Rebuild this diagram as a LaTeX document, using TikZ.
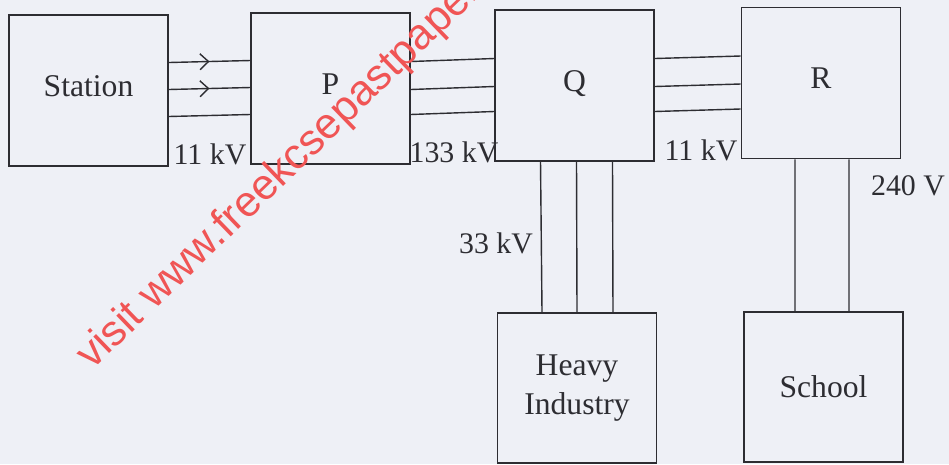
\documentclass[tikz,border=0pt]{standalone}
\usepackage{fontspec}
\setmainfont{Liberation Serif}
\newfontfamily\wmfont{Liberation Sans}
\usetikzlibrary{arrows.meta,decorations.markings}
\definecolor{paper}{RGB}{238,240,246}
\definecolor{ink}{RGB}{45,45,50}
\definecolor{wmred}{RGB}{240,85,85}
\tikzset{
  box/.style={draw=ink, line width=1pt, minimum width=3.18cm, minimum height=3.02cm,
    inner sep=0pt, align=center, text=ink, font=\fontsize{18}{22.5}\selectfont},
  toprow/.style={box, text depth=0.19cm},
  wire/.style={draw=ink, line width=0.8pt},
  feedarrow/.style={postaction={decorate}, decoration={markings,
    mark=at position 0.5 with {\arrow[ink, line width=0.8pt]{Straight Barb[length=1.7mm,width=3.2mm]}}}},
  volt/.style={text=ink, inner sep=1pt}
}
\begin{document}
\begin{tikzpicture}[x=0.02cm, y=-0.02cm, font=\fontsize{17}{22}\selectfont]

\useasboundingbox (0,0) rectangle (949,464);
\fill[paper] (0,0) rectangle (949,464);

% Boxes
\node[toprow] (station) at (88.5,90.5) {Station};
\node[toprow] (P) at (330.5,88.5) {P};
\node[toprow] (Q) at (574.5,85.5) {Q};
\node[toprow] (R) at (821,83) {R};
\node[box, minimum height=3.0cm] (heavy) at (577,388) {Heavy\\Industry};
\node[box, minimum height=3.0cm] (school) at (823.5,387) {School};

% Station to P
\draw[wire, feedarrow] ([yshift=0.56cm]station.east) -- ([yshift=0.56cm]P.west);
\draw[wire, feedarrow] ([yshift=0.02cm]station.east) -- ([yshift=0.02cm]P.west);
\draw[wire] ([yshift=-0.52cm]station.east) -- ([yshift=-0.52cm]P.west);

% P to Q
\draw[wire] ([yshift=0.54cm]P.east) -- ([yshift=0.54cm]Q.west);
\draw[wire] ([yshift=-0.02cm]P.east) -- ([yshift=-0.02cm]Q.west);
\draw[wire] ([yshift=-0.52cm]P.east) -- ([yshift=-0.52cm]Q.west);

% Q to R
\draw[wire] ([yshift=0.54cm]Q.east) -- ([yshift=0.54cm]R.west);
\draw[wire] ([yshift=-0.02cm]Q.east) -- ([yshift=-0.02cm]R.west);
\draw[wire] ([yshift=-0.52cm]Q.east) -- ([yshift=-0.52cm]R.west);

% Q to heavy industry
\draw[wire] ([xshift=-0.68cm]Q.south) -- ([xshift=-0.70cm]heavy.north);
\draw[wire] ([xshift=0.04cm]Q.south) -- (heavy.north);
\draw[wire] ([xshift=0.76cm]Q.south) -- ([xshift=0.72cm]heavy.north);

% R to school
\draw[wire] ([xshift=-0.52cm]R.south) -- ([xshift=-0.57cm]school.north);
\draw[wire] ([xshift=0.56cm]R.south) -- ([xshift=0.51cm]school.north);

% Voltages
\node[volt] (v1) at (210,154) {11 kV};
\node[volt] (v2) at (454,152) {133 kV};
\node[volt] (v3) at (701,150) {11 kV};
\node[volt] (v4) at (908,186) {240 V};
\node[volt] (v5) at (496,243) {33 kV};

% Watermark
\node[anchor=base west, rotate=44, text=wmred, inner sep=0pt,
  font=\wmfont\fontsize{24.5}{28}\selectfont] (mark) at (92,371)
{visit www.freekcsepastpapers.com};

\end{tikzpicture}
\end{document}
